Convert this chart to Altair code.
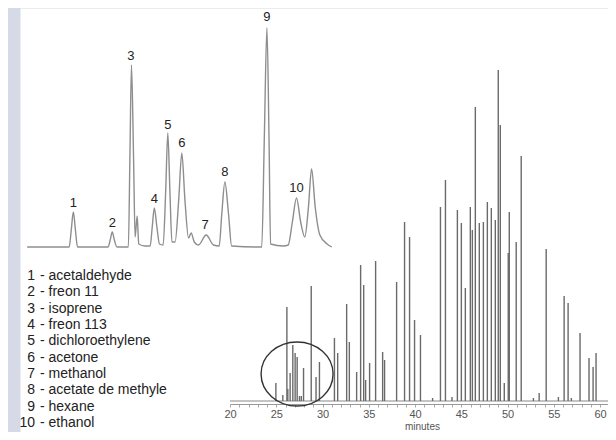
import altair as alt
import pandas as pd

FONT = "Liberation Sans"

# ---- inset: expanded view of the circled region (minutes, detector response)
inset_time = [24.08, 24.83, 24.89, 24.93, 24.97, 25.01, 25.05, 25.64, 25.68, 25.72,
              25.76, 25.81, 26.03, 26.06, 26.09, 26.13, 26.16, 26.20, 26.23, 26.35,
              26.45, 26.49, 26.53, 26.58, 26.63, 26.70, 26.75, 26.79, 26.83, 26.87,
              26.93, 27.00, 27.06, 27.12, 27.19, 27.24, 27.30, 27.38, 27.53, 27.67,
              27.78, 27.83, 27.89, 27.96, 28.02, 28.60, 28.65, 28.70, 28.74, 28.77,
              29.02, 29.11, 29.19, 29.27, 29.35, 29.43, 29.50, 29.56, 29.63, 29.72,
              29.86, 29.95]
inset_signal = [0, 0, 0, 17, 35, 17, 0, 0, 7, 15,
                7, 0, 0, 90, 182, 90, 10, 31, 3, 1,
                1, 20, 39, 20, 3, 2, 57, 114, 57, 5,
                5, 47, 94, 47, 9, 14, 5, 2, 12, 2,
                1, 33, 65, 33, 1, 0, 110, 219, 110, 3,
                1, 2, 25, 49, 25, 10, 40, 78, 40, 12,
                3, 0]

# peak numbers in the inset
label_num = ["1", "2", "3", "4", "5", "6", "7", "8", "9", "10"]
label_time = [24.97, 25.72, 26.08, 26.53, 26.79, 27.06, 27.51, 27.89, 28.70, 29.27]
label_level = [44, 24.5, 191, 48, 122, 104, 22, 75, 230, 59.5]

# compound list
compounds = ["acetaldehyde", "freon 11", "isoprene", "freon 113", "dichloroethylene",
             "acetone", "methanol", "acetate de methyle", "hexane", "ethanol"]

# ---- main chromatogram peaks
main_time = [24.96, 25.71, 26.15, 26.25, 26.50, 26.79, 27.04, 27.26, 27.51, 27.71,
             27.95, 28.78, 29.30, 29.67, 31.29, 31.64, 32.61, 32.90, 33.69, 34.12,
             34.45, 34.66, 35.09, 35.74, 36.50, 36.71, 38.01, 38.87, 39.41, 39.95,
             40.59, 41.90, 42.75, 43.29, 44.00, 44.58, 45.01, 45.44, 45.98, 46.20,
             46.52, 46.95, 47.39, 47.82, 48.25, 48.68, 49.00, 49.22, 49.65, 50.08,
             50.19, 50.94, 51.48, 52.80, 53.42, 54.18, 55.50, 56.12, 56.55, 56.90,
             57.84, 58.81, 59.25, 59.57]
main_height = [18, 6, 94, 12, 28, 56, 48, 44, 5, 5,
               33, 115, 24, 39, 63, 48, 97, 59, 29, 136,
               116, 21, 38, 140, 49, 41, 119, 179, 164, 81,
               66, 3, 194, 221, 4, 191, 178, 113, 194, 171,
               294, 178, 179, 199, 193, 181, 331, 276, 18, 148,
               189, 159, 245, 3, 8, 152, 4, 105, 98, 3,
               68, 43, 34, 48]

axis_ticks = list(range(20, 62))
circle_time = [27.25]
circle_level = [27]

# ---------------- data frames
inset_df = pd.DataFrame({"t": inset_time, "s": inset_signal})
lab_df = pd.DataFrame({"t": label_time, "s": label_level, "n": label_num})
leg_df = pd.DataFrame({
    "idx": list(range(1, 11)),
    "col": [1] * 10,
    "num": label_num,
    "name": ["- " + c for c in compounds],
})
peaks_df = pd.DataFrame({"t": main_time, "h": main_height, "b": [0] * len(main_time)})
base_df = pd.DataFrame({"t0": [20.0], "t1": [61.5], "b": [0]})
circ_df = pd.DataFrame({"t": circle_time, "h": circle_level})

# ---------------- scales
ix = alt.Scale(domain=[24, 30], range=[3, 314.4])
iy = alt.Scale(domain=[0, 219], range=[239, 20])
mx = alt.Scale(domain=[20, 61.5], range=[210, 593.9])
my = alt.Scale(domain=[0, 331], range=[393, 62])
ly = alt.Scale(domain=[1, 10], range=[268, 415])

# ---------------- inset
inset_line = alt.Chart(inset_df).mark_line(
    color="#8e8e8e", strokeWidth=1.4, interpolate="monotone"
).encode(
    x=alt.X("t:Q", scale=ix, axis=None),
    y=alt.Y("s:Q", scale=iy, axis=None),
)
inset_labels = alt.Chart(lab_df).mark_text(
    font=FONT, fontSize=13, color="#222", baseline="middle", align="center"
).encode(
    x=alt.X("t:Q", scale=ix, axis=None),
    y=alt.Y("s:Q", scale=iy, axis=None),
    text="n:N",
)

# ---------------- main chromatogram
peaks = alt.Chart(peaks_df).mark_rule(color="#6a6a6a", strokeWidth=1.4).encode(
    x=alt.X("t:Q", scale=mx, axis=alt.Axis(
        orient="bottom", offset=-28, values=axis_ticks,
        labelExpr="datum.value % 5 == 0 ? datum.label : ''",
        labelOverlap=False, labelFlush=False,
        tickSize=3, tickColor="#aaa", domainColor="#999", grid=False,
        labelFont=FONT, labelFontSize=11, labelColor="#555", labelPadding=1,
        title="minutes", titleFont=FONT, titleFontSize=10, titleFontWeight="normal",
        titleColor="#555", titlePadding=2,
    )),
    y=alt.Y("h:Q", scale=my, axis=None),
    y2="b:Q",
)
baseline = alt.Chart(base_df).mark_rule(color="#888", strokeWidth=1).encode(
    x=alt.X("t0:Q", scale=mx, axis=None), x2="t1:Q",
    y=alt.Y("b:Q", scale=my, axis=None),
)
circle = alt.Chart(circ_df).mark_point(
    shape="M-1,0A1,0.89,0,1,0,1,0A1,0.89,0,1,0,-1,0Z",
    size=5184, filled=False, color="#333", strokeWidth=1.4, opacity=1,
).encode(
    x=alt.X("t:Q", scale=mx, axis=None),
    y=alt.Y("h:Q", scale=my, axis=None),
)

# ---------------- compound list
leg_num = alt.Chart(leg_df).mark_text(
    font=FONT, fontSize=14, color="#222", align="right", baseline="middle"
).encode(
    x=alt.X("col:Q", scale=alt.Scale(domain=[0, 1], range=[0, 15]), axis=None),
    y=alt.Y("idx:Q", scale=ly, axis=None),
    text="num:N",
)
leg_name = alt.Chart(leg_df).mark_text(
    font=FONT, fontSize=14, color="#222", align="left", baseline="middle"
).encode(
    x=alt.X("col:Q", scale=alt.Scale(domain=[0, 1], range=[0, 20]), axis=None),
    y=alt.Y("idx:Q", scale=ly, axis=None),
    text="name:N",
)

chart = alt.layer(
    inset_line, inset_labels, baseline, peaks, circle, leg_num, leg_name
).resolve_scale(
    x="independent", y="independent"
).properties(
    width=588, height=424,
    background="#d6d9e6",
    padding={"left": 12, "top": 0, "right": 0, "bottom": 0},
    autosize=alt.AutoSizeParams(type="none"),
).configure_view(fill="white", stroke="transparent")

chart.save("out.html", embed_options={"renderer": "svg", "actions": False})
